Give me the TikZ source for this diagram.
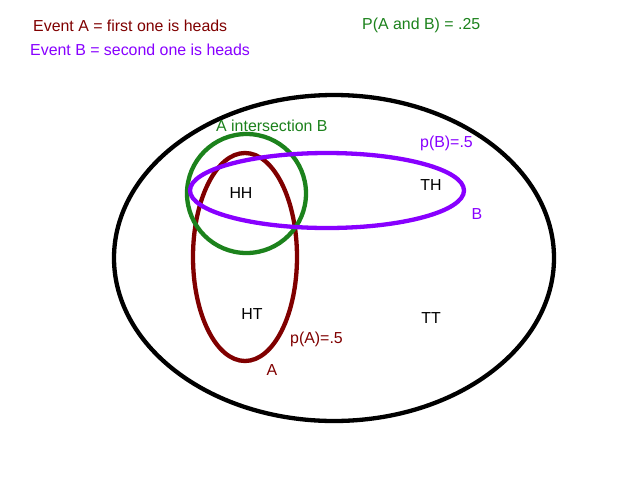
\documentclass[tikz,border=0pt]{standalone}
\usepackage{fontspec}
\setmainfont{Liberation Sans}
\definecolor{darkred}{RGB}{128,0,0}
\definecolor{vpurple}{RGB}{136,0,255}
\definecolor{dgreen}{RGB}{28,130,28}
\begin{document}
\begin{tikzpicture}[x=1pt,y=-1pt,
  lbl/.style={inner sep=0pt,font=\fontsize{15.9}{19}\selectfont},
  ring/.style={line width=4.3pt}]
\useasboundingbox[fill=white] (0,0) rectangle (640,480);
% sets
\draw[ring,black] (334,258) ellipse [x radius=220,y radius=163];
\draw[ring,darkred] (245,257) ellipse [x radius=52,y radius=104];
\draw[ring,dgreen] (246.5,193.5) circle [radius=59.5];
\draw[ring,vpurple] (327,190.5) ellipse [x radius=137,y radius=37.5];
% texts
\node[lbl,text=darkred,anchor=west] (evA) at (33,26) {Event A = first one is heads};
\node[lbl,text=vpurple,anchor=west] (evB) at (30,50) {Event B = second one is heads};
\node[lbl,text=dgreen,anchor=west] (pab) at (362,25) {P(A and B) = .25};
\node[lbl,text=dgreen,anchor=west] (inter) at (216,126) {A intersection B};
\node[lbl,text=vpurple,anchor=west] (pb) at (420,143) {p(B)=.5};
\node[lbl,text=vpurple] (bl) at (477,214) {B};
\node[lbl] (hh) at (241,193) {HH};
\node[lbl] (th) at (431,185) {TH};
\node[lbl] (ht) at (252,314) {HT};
\node[lbl] (tt) at (431,318) {TT};
\node[lbl,text=darkred,anchor=west] (pa) at (290,339) {p(A)=.5};
\node[lbl,text=darkred] (al) at (272,370) {A};
\end{tikzpicture}
\end{document}
